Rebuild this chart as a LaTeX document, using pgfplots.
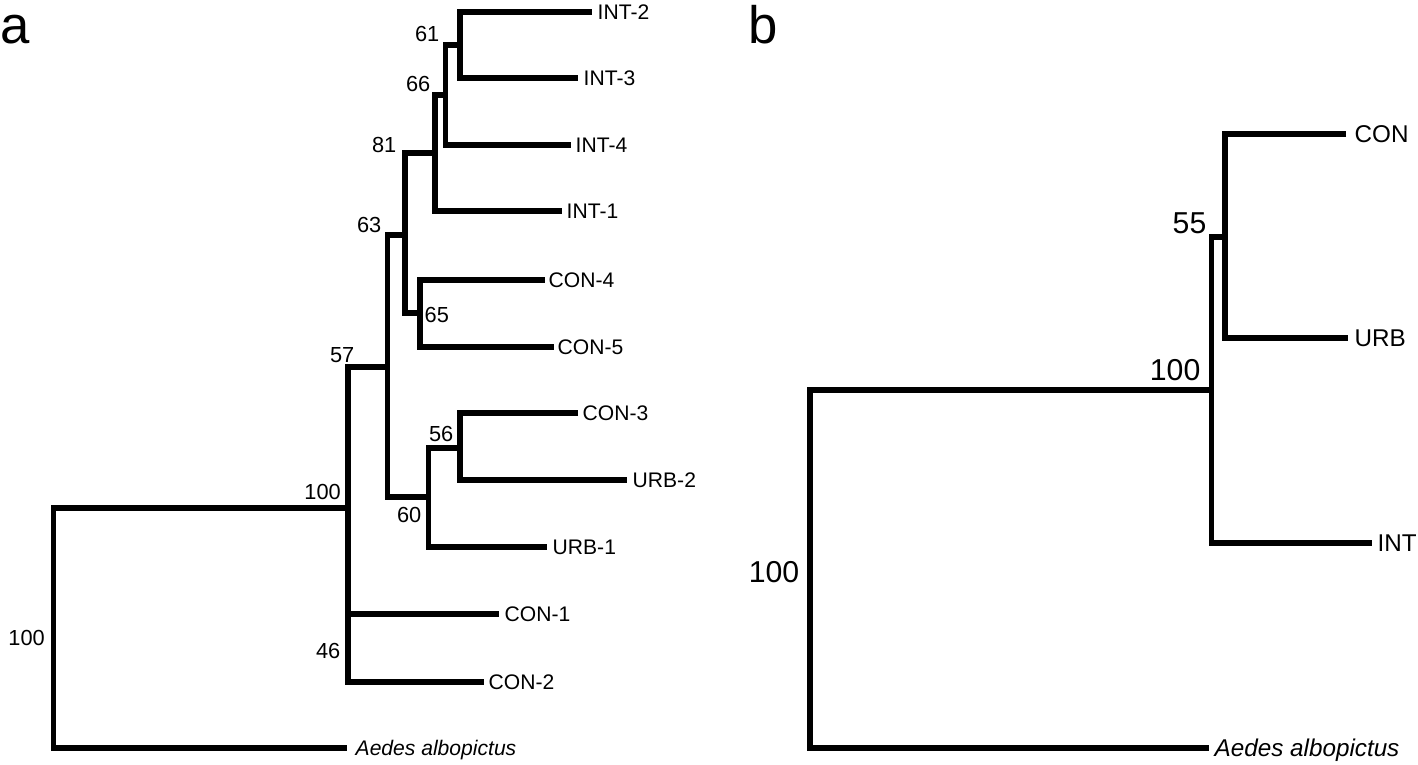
\documentclass[border=0pt]{standalone}
\usepackage{fontspec}
\setmainfont{Liberation Sans}
\usepackage{pgfplots}
\pgfplotsset{compat=1.18}
\tikzset{
    tr/.style={black, solid, line width=1.6pt, line join=miter, mark=none},
    lf/.style={anchor=base west, inner sep=0pt, font=\fontsize{6}{7}\selectfont},
    nb/.style={anchor=base east, inner sep=0pt, font=\fontsize{6.2}{7}\selectfont},
    lfb/.style={anchor=base west, inner sep=0pt, font=\fontsize{6.9}{8}\selectfont},
    nbb/.style={anchor=base east, inner sep=0pt, font=\fontsize{8.6}{10}\selectfont},
    pan/.style={anchor=base west, inner sep=0pt, font=\fontsize{15}{18}\selectfont},
}

\begin{document}
\begin{tikzpicture}
\begin{axis}[
    scale only axis,
    width=14.18cm, height=7.64cm,
    xmin=0, xmax=1418, ymin=0, ymax=764,
    y dir=reverse,
    hide axis,
    clip=false,
]
% frame of the page
\addplot[draw=none, mark=none] coordinates {(0,0) (1418,764)};

% ---- panel a ----
\addplot[tr] coordinates {(591.5,12.3) (460,12.3) (460,77.7) (578,77.7)};
\addplot[tr] coordinates {(445.5,45) (460,45)};
\addplot[tr] coordinates {(460,45) (445.5,45) (445.5,145) (571,145)};
\addplot[tr] coordinates {(435,95) (445.5,95)};
\addplot[tr] coordinates {(445.5,95) (435,95) (435,211) (561.6,211)};
\addplot[tr] coordinates {(435,153) (405,153) (405,313) (420,313)};
\addplot[tr] coordinates {(544.6,280) (420,280) (420,347) (553.6,347)};
\addplot[tr] coordinates {(405,235) (387.5,235) (387.5,497) (428.6,497)};
\addplot[tr] coordinates {(460,448) (428.6,448) (428.6,547) (547,547)};
\addplot[tr] coordinates {(578,413) (460,413) (460,480) (627,480)};
\addplot[tr] coordinates {(387.5,367) (348,367) (348,682) (484,682)};
\addplot[tr] coordinates {(348,614) (499,614)};
\addplot[tr] coordinates {(348,508) (53.6,508) (53.6,748) (347,748)};

\node[lf] at (axis cs:597,19.8) {INT-2};
\node[lf] at (axis cs:583,85.2) {INT-3};
\node[lf] at (axis cs:575,152.5) {INT-4};
\node[lf] at (axis cs:566,218.5) {INT-1};
\node[lf] at (axis cs:548,287.5) {CON-4};
\node[lf] at (axis cs:557,354.5) {CON-5};
\node[lf] at (axis cs:582,420.5) {CON-3};
\node[lf] at (axis cs:632,487.5) {URB-2};
\node[lf] at (axis cs:552,554.5) {URB-1};
\node[lf] at (axis cs:504,621.5) {CON-1};
\node[lf] at (axis cs:488,689.5) {CON-2};
\node[lf] at (axis cs:355,755.2) {\itshape Aedes albopictus};

\node[nb] at (axis cs:440,41) {61};
\node[nb] at (axis cs:431,91) {66};
\node[nb] at (axis cs:397,152) {81};
\node[nb] at (axis cs:382,232) {63};
\node[nb] at (axis cs:355,362) {57};
\node[nb, anchor=base west] at (axis cs:424,322) {65};
\node[nb] at (axis cs:454,441) {56};
\node[nb] at (axis cs:422,522) {60};
\node[nb] at (axis cs:341.5,499) {100};
\node[nb] at (axis cs:341,658) {46};
\node[nb] at (axis cs:45.5,645) {100};
\node[pan] at (axis cs:0,43) {a};

% ---- panel b ----
\addplot[tr] coordinates {(1346,134) (1225,134) (1225,338) (1348,338)};
\addplot[tr] coordinates {(1225,237) (1211.5,237) (1211.5,543) (1372,543)};
\addplot[tr] coordinates {(1211.5,390) (810,390) (810,748) (1209,748)};

\node[lfb] at (axis cs:1354,142.5) {CON};
\node[lfb] at (axis cs:1354,346.5) {URB};
\node[lfb] at (axis cs:1377,551.5) {INT};
\node[lfb] at (axis cs:1214,756.5) {\itshape Aedes albopictus};

\node[nbb] at (axis cs:1207,233) {55};
\node[nbb] at (axis cs:1201,380) {100};
\node[nbb] at (axis cs:800,582) {100};
\node[pan] at (axis cs:748,43) {b};
\end{axis}
\end{tikzpicture}
\end{document}
